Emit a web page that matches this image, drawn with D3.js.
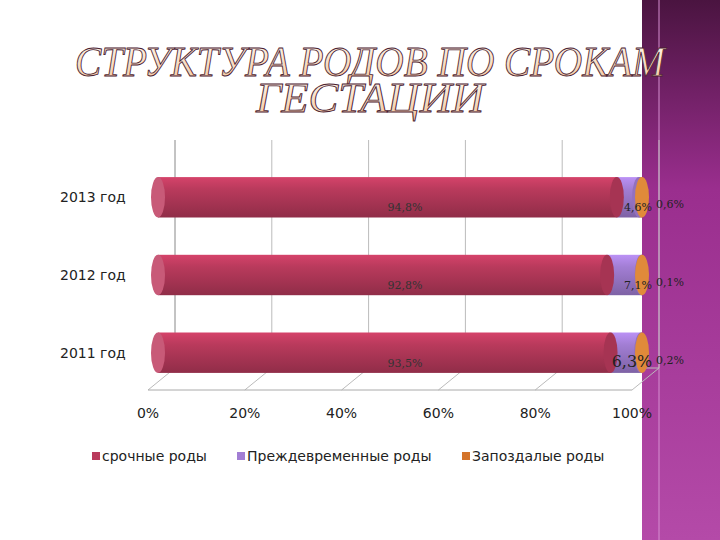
<!DOCTYPE html>
<html><head><meta charset="utf-8">
<script src="https://cdn.jsdelivr.net/npm/d3@7"></script>
<style>body{margin:0;background:#fff}</style>
</head><body>
<svg id="chart" width="720" height="540"></svg>
<script>
const years = ["2013 год", "2012 год", "2011 год"];
const seriesNames = ["срочные роды", "Преждевременные роды", "Запоздалые роды"];
const term = [94.8, 92.8, 93.5];
const preterm = [4.6, 7.1, 6.3];
const late = [0.6, 0.1, 0.2];
const labelTerm = ["94,8%", "92,8%", "93,5%"];
const labelPre = ["4,6%", "7,1%", "6,3%"];
const labelLate = ["0,6%", "0,1%", "0,2%"];
const ticks = [0, 20, 40, 60, 80, 100];
const colors = ["#b93a5c", "#a27ed4", "#d4742a"];

const svg = d3.select("#chart");
const defs = svg.append("defs");

// purple side band
const bg = defs.append("linearGradient").attr("id", "band").attr("x1", 0).attr("y1", 0).attr("x2", 0).attr("y2", 1);
bg.append("stop").attr("offset", 0).attr("stop-color", "#4a1440");
bg.append("stop").attr("offset", 0.35).attr("stop-color", "#9a2e8e");
bg.append("stop").attr("offset", 1).attr("stop-color", "#b44aa8");
svg.append("rect").attr("x", 642).attr("y", 0).attr("width", 78).attr("height", 540).attr("fill", "url(#band)");
svg.append("line").attr("x1", 659).attr("x2", 659).attr("y1", 0).attr("y2", 540).attr("stroke", "#d58fd0").attr("stroke-width", 1);

// title
const tg = defs.append("linearGradient").attr("id", "tgrad").attr("x1", 0).attr("y1", 0).attr("x2", 0).attr("y2", 1);
tg.append("stop").attr("offset", 0).attr("stop-color", "#fffaf2");
tg.append("stop").attr("offset", 1).attr("stop-color", "#f3c49a");
[["СТРУКТУРА РОДОВ ПО СРОКАМ", 76, 590], ["ГЕСТАЦИИ", 112, 228]].forEach(([t, y, w]) => {
  svg.append("text").attr("x", 370).attr("y", y).attr("text-anchor", "middle")
    .attr("font-family", "Liberation Serif").attr("font-style", "italic")
    .attr("font-size", 42).attr("fill", "url(#tgrad)").attr("stroke", "#4a2030").attr("stroke-width", 0.9)
    .attr("textLength", w).attr("lengthAdjust", "spacingAndGlyphs").text(t);
});

const x = d3.scaleLinear().domain([0, 100]).range([148, 632]);
const y = d3.scaleBand().domain(years).range([160, 390]).paddingInner(0.48).paddingOuter(0.22);
const dx = 27, dy = -22;
const floorY = 390;

// back wall gridlines
const g = svg.append("g");
g.selectAll(".grid").data(ticks).join("line")
  .attr("x1", d => x(d) + dx).attr("x2", d => x(d) + dx)
  .attr("y1", 140).attr("y2", floorY + dy).attr("stroke", "#bbb");
g.selectAll(".floor").data(ticks).join("line")
  .attr("x1", d => x(d)).attr("x2", d => x(d) + dx)
  .attr("y1", floorY).attr("y2", floorY + dy).attr("stroke", "#bbb");
g.append("line").attr("x1", x(0)).attr("x2", x(100)).attr("y1", floorY).attr("y2", floorY).attr("stroke", "#aaa");
g.append("line").attr("x1", x(0) + dx).attr("x2", x(100) + dx).attr("y1", floorY + dy).attr("y2", floorY + dy).attr("stroke", "#bbb");
g.append("line").attr("x1", x(0) + dx).attr("x2", x(0) + dx).attr("y1", 140).attr("y2", floorY + dy).attr("stroke", "#aaa");

// axis labels
svg.selectAll(".tick").data(ticks).join("text")
  .attr("x", d => x(d)).attr("y", floorY + 28).attr("text-anchor", "middle")
  .attr("font-family", "DejaVu Sans").attr("font-size", 14).attr("fill", "#222").text(d => d + "%");
svg.selectAll(".cat").data(years).join("text")
  .attr("x", 60).attr("y", d => y(d) + y.bandwidth() / 2 + 5)
  .attr("font-family", "DejaVu Sans").attr("font-size", 14).attr("fill", "#222").text(d => d);

// cylinders
function shade(c, id) {
  const gr = defs.append("linearGradient").attr("id", id).attr("x1", 0).attr("y1", 0).attr("x2", 0).attr("y2", 1);
  gr.append("stop").attr("offset", 0).attr("stop-color", d3.color(c).brighter(0.4));
  gr.append("stop").attr("offset", 0.3).attr("stop-color", c);
  gr.append("stop").attr("offset", 1).attr("stop-color", d3.color(c).darker(0.7));
}
colors.forEach((c, i) => shade(c, "s" + i));

years.forEach((yr, i) => {
  const h = y.bandwidth(), top = y(yr), rx = 7;
  const parts = [[0, term[i]], [term[i], term[i] + preterm[i]], [term[i] + preterm[i], 100]];
  parts.forEach(([a, b], k) => {
    const x0 = x(a) + 10, x1 = x(b) + 10;
    svg.append("rect").attr("x", x0).attr("y", top).attr("width", Math.max(0, x1 - x0)).attr("height", h).attr("fill", "url(#s" + k + ")");
    svg.append("ellipse").attr("cx", x0).attr("cy", top + h / 2).attr("rx", rx).attr("ry", h / 2).attr("fill", k === 0 ? "#c85a78" : d3.color(colors[k - 1]).darker(0.3));
  });
  svg.append("ellipse").attr("cx", x(100) + 10).attr("cy", top + h / 2).attr("rx", rx).attr("ry", h / 2).attr("fill", "#e08a3a");

  const ty = top + h / 2 + 14;
  const font = "DejaVu Serif";
  svg.append("text").attr("x", 405).attr("y", ty).attr("text-anchor", "middle").attr("font-family", font).attr("font-size", 11).attr("fill", "#333").text(labelTerm[i]);
  svg.append("text").attr("x", i === 2 ? 632 : 638).attr("y", ty).attr("text-anchor", "middle").attr("font-family", font).attr("font-size", i === 2 ? 16 : 11).attr("fill", "#222").text(labelPre[i]);
  svg.append("text").attr("x", 670).attr("y", ty - 3).attr("text-anchor", "middle").attr("font-family", font).attr("font-size", 11).attr("fill", "#222").text(labelLate[i]);
});

// legend
const lx = [92, 237, 462];
seriesNames.forEach((n, i) => {
  svg.append("rect").attr("x", lx[i]).attr("y", 452).attr("width", 8).attr("height", 8).attr("fill", colors[i]);
  svg.append("text").attr("x", lx[i] + 10).attr("y", 461).attr("font-family", "DejaVu Sans").attr("font-size", 14).attr("fill", "#222").text(n);
});
</script>
</body></html>
